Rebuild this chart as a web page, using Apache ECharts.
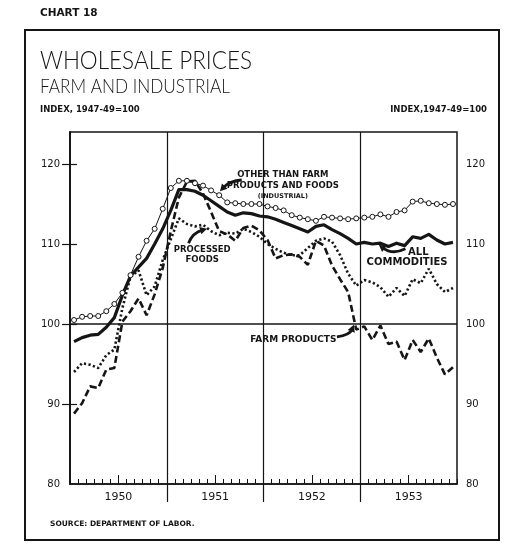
<!DOCTYPE html>
<html>
<head>
<meta charset="utf-8">
<title>Wholesale Prices</title>
<script src="https://cdn.jsdelivr.net/npm/echarts@6/dist/echarts.min.js"></script>
<style>
  html, body { margin: 0; padding: 0; background: #fff; }
  #chart { width: 527px; height: 552px; }
</style>
</head>
<body>
<div id="chart"></div>
<script>
const years = ['1950', '1951', '1952', '1953'];
const monthNames = ['Jan', 'Feb', 'Mar', 'Apr', 'May', 'Jun', 'Jul', 'Aug', 'Sep', 'Oct', 'Nov', 'Dec'];
const categories = years.flatMap(y => monthNames.map(m => m + ' ' + y));
const yTicks = [80, 90, 100, 110, 120];

// index, 1947-49 = 100, monthly readings taken off the chart
const industrial = [
  100.5, 100.9, 101.0, 101.0, 101.6, 102.5, 103.9, 106.1, 108.4, 110.4, 111.9, 114.4,
  117.0, 117.9, 117.9, 117.6, 117.3, 116.7, 116.1, 115.2, 115.1, 115.0, 115.0, 115.0,
  114.7, 114.5, 114.2, 113.6, 113.3, 113.1, 112.9, 113.4, 113.3, 113.2, 113.1, 113.2,
  113.3, 113.4, 113.7, 113.4, 114.0, 114.2, 115.3, 115.4, 115.1, 115.0, 114.9, 115.0
];
const allCommodities = [
  97.8, 98.3, 98.6, 98.7, 99.6, 100.8, 103.6, 106.0, 107.1, 108.2, 110.0, 111.9,
  114.2, 116.8, 116.8, 116.6, 116.1, 115.4, 114.7, 114.0, 113.6, 113.9, 113.8, 113.5,
  113.4, 113.1, 112.7, 112.3, 111.9, 111.5, 112.2, 112.4, 111.8, 111.3, 110.7, 110.0,
  110.2, 110.0, 110.1, 109.7, 110.1, 109.8, 110.9, 110.7, 111.2, 110.5, 110.0, 110.2
];
const farmProducts = [
  88.8, 90.1, 92.2, 92.0, 94.3, 94.5, 100.3, 101.6, 103.2, 101.1, 103.7, 107.0,
  111.6, 115.8, 117.8, 117.9, 116.3, 114.0, 111.6, 111.2, 110.4, 112.0, 112.3, 111.7,
  110.5, 108.2, 108.6, 108.7, 108.4, 107.4, 110.4, 109.8, 107.3, 105.6, 104.0, 99.3,
  99.7, 98.0, 99.8, 97.5, 97.8, 95.5, 98.0, 96.5, 98.2, 95.8, 93.7, 94.6
];
const processedFoods = [
  94.0, 95.1, 94.9, 94.5, 96.1, 96.8, 102.0, 105.9, 106.7, 103.6, 104.7, 108.0,
  110.6, 113.2, 112.5, 112.2, 112.4, 111.6, 111.1, 111.4, 111.3, 111.9, 111.5, 110.9,
  110.0, 109.4, 108.9, 108.6, 108.6, 109.5, 110.4, 110.7, 110.3, 108.6, 106.3, 104.8,
  105.5, 105.2, 104.6, 103.4, 104.5, 103.5, 105.6, 105.1, 106.9, 105.0, 104.0, 104.5
];

const ink = '#151515';
const lab = { color: ink, fontFamily: 'DejaVu Sans', fontSize: 10 };

const chart = echarts.init(document.getElementById('chart'));

const option = {
  backgroundColor: '#fff',
  animation: false,
  grid: { left: 70, right: 70, top: 132, bottom: 68, show: true, borderColor: ink, borderWidth: 1.5 },
  xAxis: [
    {
      type: 'category', data: categories, boundaryGap: true,
      axisLine: { show: true, lineStyle: { color: ink, width: 1.5 } },
      axisTick: { show: true, interval: 0, inside: true, length: 5, lineStyle: { color: ink, width: 1 } },
      axisLabel: { show: false }, splitLine: { show: false }
    },
    {
      type: 'value', min: 0, max: 48, interval: 12, position: 'bottom',
      axisLine: { show: false },
      axisTick: { show: true, inside: false, length: 18, customValues: [12, 24, 36], lineStyle: { color: ink, width: 1.2 } },
      axisLabel: {
        show: true, customValues: [6, 18, 30, 42], margin: 8,
        formatter: v => years[(v - 6) / 12], ...lab, fontSize: 11
      },
      splitLine: { show: true, lineStyle: { color: ink, width: 1.2 } }
    },
    {
      type: 'value', min: 0, max: 48, position: 'bottom',
      axisLine: { show: false },
      axisTick: { show: true, inside: true, length: 9, customValues: [6, 18, 30, 42], lineStyle: { color: ink, width: 1 } },
      axisLabel: { show: false }, splitLine: { show: false }
    }
  ],
  yAxis: [
    {
      type: 'value', min: 80, max: 124, position: 'left',
      axisLine: { show: true, lineStyle: { color: ink, width: 1.5 } },
      axisTick: { show: true, inside: true, length: 7, customValues: [90, 100, 110, 120], lineStyle: { color: ink, width: 1.2 } },
      axisLabel: { customValues: yTicks, margin: 10, ...lab },
      splitLine: { show: false }
    },
    {
      type: 'value', min: 80, max: 124, position: 'right',
      axisLine: { show: true, lineStyle: { color: ink, width: 1.5 } },
      axisTick: { show: true, inside: true, length: 8, customValues: [90, 100, 110, 120], lineStyle: { color: ink, width: 1.2 } },
      axisLabel: { customValues: yTicks, margin: 9, ...lab },
      splitLine: { show: false }
    }
  ],
  series: [
    {
      name: 'Processed foods', type: 'line', data: processedFoods, symbol: 'none',
      lineStyle: { color: ink, width: 2.6, type: [2.2, 2.4] }
    },
    {
      name: 'Farm products', type: 'line', data: farmProducts, symbol: 'none',
      lineStyle: { color: ink, width: 2.6, type: [7, 3.5] }
    },
    {
      name: 'All commodities', type: 'line', data: allCommodities, symbol: 'none',
      lineStyle: { color: ink, width: 3.2, join: 'round' },
      markLine: {
        silent: true, symbol: ['none', 'none'], label: { show: false },
        lineStyle: { color: ink, type: 'solid', width: 1.5 },
        data: [{ yAxis: 100 }]
      }
    },
    {
      name: 'Other than farm products and foods', type: 'line', data: industrial,
      symbol: 'circle', symbolSize: 5, showSymbol: true,
      itemStyle: { color: '#fff', borderColor: ink, borderWidth: 1 },
      lineStyle: { color: ink, width: 1 }
    }
  ]
};
chart.setOption(option);

// annotation anchors in data space: [month position 0..48, index value]
const notes = [
  { text: 'OTHER THAN FARM', at: [26.4, 118.6], size: 8.5 },
  { text: 'PRODUCTS AND FOODS', at: [26.4, 117.25], size: 8.5 },
  { text: '(INDUSTRIAL)', at: [26.4, 116.0], size: 6.5 },
  { text: 'PROCESSED', at: [16.4, 109.25], size: 8.5 },
  { text: 'FOODS', at: [16.4, 108.06], size: 8.5 },
  { text: 'ALL', at: [43.2, 108.9], size: 10 },
  { text: 'COMMODITIES', at: [41.8, 107.75], size: 10 },
  { text: 'FARM PRODUCTS', at: [27.7, 98.06], size: 9 }
];
const arrows = [
  { from: [21.3, 118.0], ctrl: [19.8, 117.9], to: [18.6, 116.6] },
  { from: [14.7, 110.1], ctrl: [15.2, 111.4], to: [17.0, 111.9] },
  { from: [41.6, 109.4], ctrl: [40.0, 108.6], to: [38.3, 109.9] },
  { from: [33.1, 98.4], ctrl: [34.7, 98.6], to: [35.2, 99.9] }
];

const px = p => chart.convertToPixel({ xAxisIndex: 1, yAxisIndex: 0 }, p);

function arrowShapes(a) {
  const p0 = px(a.from), c = px(a.ctrl), p1 = px(a.to);
  let dx = p1[0] - c[0], dy = p1[1] - c[1];
  const len = Math.hypot(dx, dy) || 1;
  dx /= len; dy /= len;
  const nx = -dy, ny = dx;
  const head = 7, half = 3.8;
  const bx = p1[0] - dx * head, by = p1[1] - dy * head;
  return [
    {
      type: 'bezierCurve',
      shape: { x1: p0[0], y1: p0[1], cpx1: c[0], cpy1: c[1], x2: bx + dx * 2, y2: by + dy * 2 },
      style: { stroke: ink, lineWidth: 2.8, fill: null }
    },
    {
      type: 'polygon',
      shape: { points: [[p1[0], p1[1]], [bx + nx * half, by + ny * half], [bx - nx * half, by - ny * half]] },
      style: { fill: ink }
    }
  ];
}

const headerFont = 'Lato, "Open Sans", sans-serif';
const graphics = [
  {
    type: 'rect', shape: { x: 25, y: 30, width: 474, height: 510 },
    style: { fill: null, stroke: ink, lineWidth: 2 }, z: 10
  },
  { type: 'text', x: 40, y: 13.5, style: { text: 'CHART 18', fill: ink, font: 'bold 10.5px "DejaVu Sans"', verticalAlign: 'middle' } },
  { type: 'text', x: 40, y: 61, scaleX: 0.9, style: { text: 'WHOLESALE PRICES', fill: ink, font: '300 25px ' + headerFont, verticalAlign: 'middle' } },
  { type: 'text', x: 40, y: 87, scaleX: 0.86, style: { text: 'FARM AND INDUSTRIAL', fill: ink, font: '300 20px ' + headerFont, verticalAlign: 'middle' } },
  { type: 'text', x: 40, y: 109.5, style: { text: 'INDEX, 1947-49=100', fill: ink, font: 'bold 8.5px "DejaVu Sans"', verticalAlign: 'middle' } },
  { type: 'text', x: 487, y: 109.5, style: { text: 'INDEX,1947-49=100', fill: ink, font: 'bold 8.5px "DejaVu Sans"', align: 'right', verticalAlign: 'middle' } },
  { type: 'text', x: 50, y: 524.5, style: { text: 'SOURCE: DEPARTMENT OF LABOR.', fill: ink, font: 'bold 7.5px "DejaVu Sans"', verticalAlign: 'middle' } }
];
notes.forEach(n => {
  const p = px(n.at);
  graphics.push({
    type: 'text', x: p[0], y: p[1], z: 20,
    style: { text: n.text, fill: ink, font: 'bold ' + n.size + 'px "DejaVu Sans"', align: 'center', verticalAlign: 'middle' }
  });
});
arrows.forEach(a => arrowShapes(a).forEach(g => graphics.push(Object.assign(g, { z: 20 }))));

chart.setOption({ graphic: graphics });
</script>
</body>
</html>
